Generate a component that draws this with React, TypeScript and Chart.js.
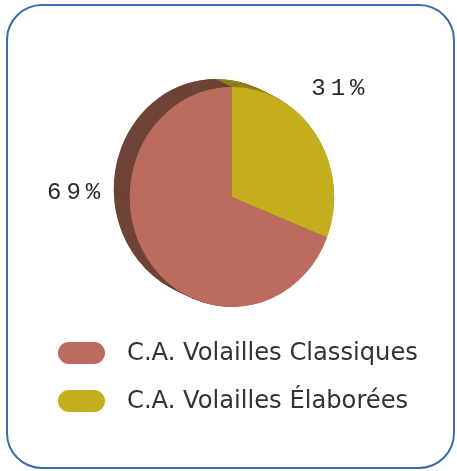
import React, { useEffect, useRef } from "react";
import { Chart, registerables } from "chart.js";

Chart.register(...registerables);

const categories = ["C.A. Volailles Classiques", "C.A. Volailles Élaborées"];
const shares = [69, 31];
const percentLabels = ["69%", "31%"];
const faceColors = ["#bb6c5e", "#c4ae1e"];
const sideColors = ["#6f4438", "#8f7f1c"];

const labelAnglesDeg = [181.6, -45.8];
const labelDistFactor = [1.44, 1.38];

const SX = 0.93;
const DEPTH_X = -16;
const DEPTH_Y = -8;

const total = shares.reduce((p, v) => p + v, 0);
// first slice starts where the last slice ends (last slice begins at 12 o'clock)
const startRotation = (shares[shares.length - 1] / total) * 360;

const depthPlugin = {
  id: "depth3d",
  beforeDatasetsDraw(chart: any) {
    const ctx = chart.ctx;
    const meta = chart.getDatasetMeta(0);
    const arcs = meta.data;
    if (!arcs.length) return;
    const cx = arcs[0].x;
    const cy = arcs[0].y;
    ctx.save();
    ctx.translate(cx, cy);
    ctx.scale(SX, 1);
    ctx.translate(-cx, -cy);
    const steps = 32;
    for (let s = steps; s >= 1; s--) {
      const dx = (DEPTH_X * s) / steps / SX;
      const dy = (DEPTH_Y * s) / steps;
      arcs.forEach((a: any, i: number) => {
        ctx.beginPath();
        ctx.moveTo(a.x + dx, a.y + dy);
        ctx.arc(a.x + dx, a.y + dy, a.outerRadius, a.startAngle, a.endAngle);
        ctx.closePath();
        ctx.fillStyle = sideColors[i];
        ctx.fill();
      });
    }
  },
  afterDatasetsDraw(chart: any) {
    chart.ctx.restore();
  },
};

const overlayPlugin = {
  id: "overlay",
  afterDraw(chart: any) {
    const ctx = chart.ctx;
    const meta = chart.getDatasetMeta(0);
    const arcs = meta.data;
    ctx.save();
    // percentage labels
    ctx.font = "24px 'Liberation Mono', monospace";
    ctx.fillStyle = "#2a2a2a";
    ctx.textBaseline = "middle";
    ctx.textAlign = "left";
    const spacing = 5;
    arcs.forEach((a: any, i: number) => {
      const ang = (labelAnglesDeg[i] * Math.PI) / 180;
      const r = a.outerRadius * labelDistFactor[i];
      const lx = a.x + Math.cos(ang) * r;
      const ly = a.y + Math.sin(ang) * r;
      const txt = percentLabels[i];
      const chars = Array.from(txt);
      const widths = chars.map((c) => ctx.measureText(c).width);
      const tw = widths.reduce((p, w) => p + w, 0) + spacing * (chars.length - 1);
      let x = lx - tw / 2;
      chars.forEach((c, k) => {
        ctx.fillText(c, x, ly);
        x += widths[k] + spacing;
      });
    });
    // legend
    const rows = [353, 401];
    ctx.font = "24.2px 'DejaVu Sans', Verdana, sans-serif";
    categories.forEach((name, i) => {
      const y = rows[i];
      ctx.beginPath();
      (ctx as any).roundRect(58, y - 11, 47, 22, 11);
      ctx.fillStyle = faceColors[i];
      ctx.fill();
      ctx.fillStyle = "#333333";
      ctx.textBaseline = "middle";
      ctx.fillText(name, 127, y + 1);
    });
    ctx.restore();
  },
};

export default function App() {
  const canvasRef = useRef<HTMLCanvasElement | null>(null);

  useEffect(() => {
    const canvas = canvasRef.current;
    if (!canvas) return;
    const chart = new Chart(canvas, {
      type: "pie",
      data: {
        labels: categories,
        datasets: [
          {
            data: shares,
            backgroundColor: faceColors,
            borderWidth: 0,
            hoverOffset: 0,
          } as any,
        ],
      },
      options: {
        responsive: false,
        animation: false,
        events: [],
        rotation: startRotation,
        layout: { padding: { top: 87, bottom: 164, left: 122, right: 115 } },
        plugins: {
          legend: { display: false },
          tooltip: { enabled: false },
        },
      } as any,
      plugins: [depthPlugin, overlayPlugin],
    });
    return () => chart.destroy();
  }, []);

  return (
    <div
      style={{
        position: "fixed",
        left: 0,
        top: 0,
        width: 457,
        height: 471,
        background: "#ffffff",
        overflow: "hidden",
      }}
    >
      <div
        style={{
          position: "absolute",
          left: 6,
          top: 4,
          width: 449,
          height: 465,
          boxSizing: "border-box",
          border: "2.5px solid #3c6aae",
          borderRadius: 36,
        }}
      />
      <canvas
        ref={canvasRef}
        width={457}
        height={471}
        style={{ position: "absolute", left: 0, top: 0, width: 457, height: 471 }}
      />
    </div>
  );
}
